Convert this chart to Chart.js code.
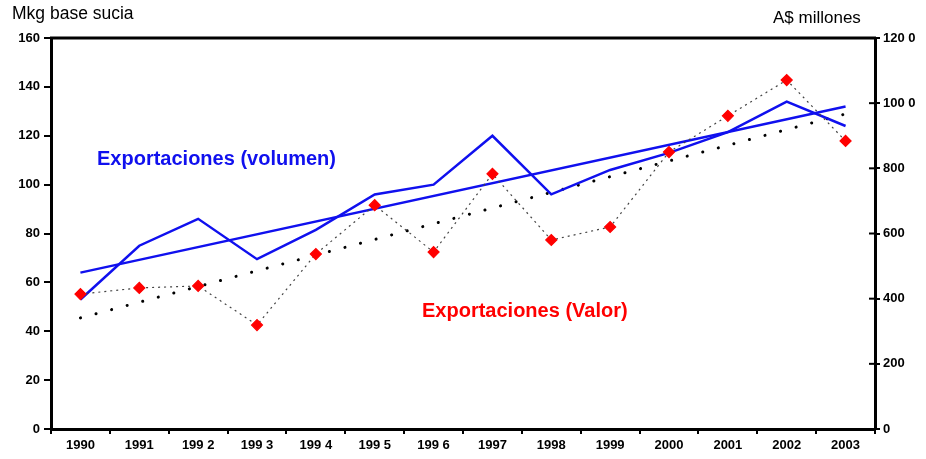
<!DOCTYPE html>
<html>
<head>
<meta charset="utf-8">
<script src="https://cdn.jsdelivr.net/npm/chart.js@4/dist/chart.umd.min.js"></script>
<style>
  body { margin: 0; background: #fff; }
  #wrap { position: relative; width: 926px; height: 459px; font-family: 'Liberation Sans', Arial, sans-serif; }
  .txt { position: absolute; white-space: nowrap; line-height: 1; }
</style>
</head>
<body>
<div id="wrap">
  <canvas id="grafico"></canvas>
  <div class="txt" style="left:12px;top:5px;font-size:17.5px;color:#000;">Mkg base sucia</div>
  <div class="txt" style="left:773px;top:9px;font-size:17px;color:#000;">A$ millones</div>
  <div class="txt" style="left:97px;top:148px;font-size:20px;font-weight:bold;color:#1010ee;">Exportaciones (volumen)</div>
  <div class="txt" style="left:422px;top:300px;font-size:20px;font-weight:bold;color:#ff0000;">Exportaciones (Valor)</div>
</div>
<script>
// Datos
const anos = ['1990', '1991', '199 2', '199 3', '199 4', '199 5', '199 6', '1997', '1998', '1999', '2000', '2001', '2002', '2003'];
const volumen = [53, 75, 86, 69.5, 81.5, 96, 100, 120, 96, 106, 113, 121.5, 134, 124];
const volumenTendencia = [64, null, null, null, null, null, null, null, null, null, null, null, null, 132];
const valor = [414, 433, 439, 319, 537, 687, 543, 783, 580, 620, 850, 961, 1071, 884];
const valorTendencia = [341, null, null, null, null, null, null, null, null, null, null, null, null, 967];
const ticksDerecha = ['0', '200', '400', '600', '800', '100 0', '120 0'];

const fuente = { family: "'Liberation Sans', Arial, sans-serif", size: 13, weight: 'bold' };

// Línea superior del marco
const bordeSuperior = {
    id: 'bordeSuperior',
    afterDraw(chart) {
        const { ctx, chartArea } = chart;
        ctx.save();
        ctx.strokeStyle = '#000';
        ctx.lineWidth = 3;
        ctx.beginPath();
        ctx.moveTo(chartArea.left - 1, chartArea.top);
        ctx.lineTo(chartArea.right + 1, chartArea.top);
        ctx.stroke();
        // marcas de la derecha hacia dentro
        const y1 = chart.scales.y1;
        ctx.lineWidth = 2;
        y1.ticks.forEach(t => {
            const py = y1.getPixelForValue(t.value);
            ctx.beginPath();
            ctx.moveTo(chartArea.right - 6, py);
            ctx.lineTo(chartArea.right, py);
            ctx.stroke();
        });
        ctx.restore();
    }
};

new Chart(document.getElementById('grafico').getContext('2d'), {
    type: 'line',
    data: {
        labels: anos,
        datasets: [
            {
                label: 'Exportaciones (Valor)',
                data: valor,
                yAxisID: 'y1',
                borderColor: '#444',
                borderWidth: 1.2,
                borderDash: [2, 4],
                pointStyle: 'rectRot',
                pointRadius: 5.5,
                pointBackgroundColor: '#ff0000',
                pointBorderColor: '#ff0000',
                tension: 0,
                order: 1
            },
            {
                label: 'Tendencia valor',
                data: valorTendencia,
                yAxisID: 'y1',
                borderColor: '#000',
                borderWidth: 3,
                borderDash: [0.1, 16],
                borderCapStyle: 'round',
                pointRadius: 0,
                spanGaps: true,
                order: 4
            },
            {
                label: 'Exportaciones (volumen)',
                data: volumen,
                yAxisID: 'y',
                borderColor: '#1010ee',
                borderWidth: 2.5,
                pointRadius: 0,
                tension: 0,
                order: 2
            },
            {
                label: 'Tendencia volumen',
                data: volumenTendencia,
                yAxisID: 'y',
                borderColor: '#1010ee',
                borderWidth: 2.5,
                pointRadius: 0,
                spanGaps: true,
                order: 3
            }
        ]
    },
    options: {
        responsive: true,
        maintainAspectRatio: false,
        animation: false,
        layout: { padding: { top: 38, left: 0, right: 0, bottom: 0 } },
        plugins: {
            legend: { display: false },
            tooltip: { enabled: false }
        },
        scales: {
            x: {
                offset: true,
                grid: {
                    offset: true,
                    drawOnChartArea: false,
                    color: '#000',
                    lineWidth: 2,
                    tickLength: 5
                },
                border: { color: '#000', width: 3 },
                ticks: { color: '#000', font: fuente, padding: 4, maxRotation: 0, autoSkip: false },
                afterFit(scale) { scale.height = 30; }
            },
            y: {
                position: 'left',
                min: 0,
                max: 160,
                ticks: { stepSize: 20, color: '#000', font: fuente, padding: 4 },
                grid: { drawOnChartArea: false, color: '#000', lineWidth: 2, tickLength: 7 },
                border: { color: '#000', width: 3 },
                afterFit(scale) { scale.width = 51; }
            },
            y1: {
                position: 'right',
                min: 0,
                max: 1200,
                ticks: {
                    stepSize: 200,
                    color: '#000',
                    font: fuente,
                    padding: 3,
                    callback: (v, i) => ticksDerecha[i]
                },
                grid: { drawOnChartArea: false, color: '#000', lineWidth: 2, tickLength: 5 },
                border: { color: '#000', width: 3 },
                afterFit(scale) { scale.width = 51; }
            }
        }
    },
    plugins: [bordeSuperior]
});
</script>
</body>
</html>
